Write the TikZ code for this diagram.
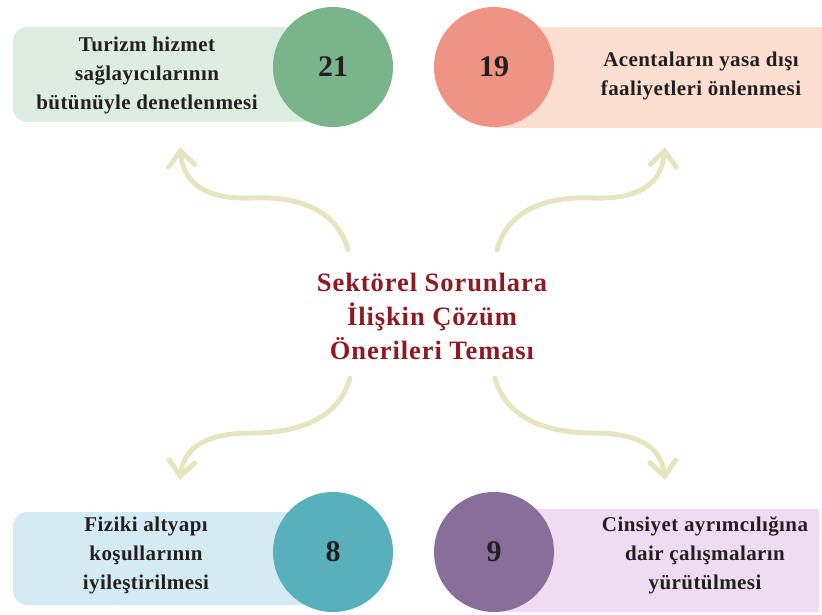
\documentclass[tikz,border=0pt]{standalone}
\usepackage{fontspec}
\setmainfont{Liberation Serif}
\usetikzlibrary{arrows.meta}
\definecolor{inkdark}{HTML}{231F20}
\definecolor{titlered}{HTML}{8E1B22}
\definecolor{arrowtan}{HTML}{E6E5C2}
\definecolor{greenbox}{HTML}{DDEDE2}
\definecolor{greendot}{HTML}{79B48A}
\definecolor{salmonbox}{HTML}{FDDFD1}
\definecolor{salmondot}{HTML}{EF9384}
\definecolor{bluebox}{HTML}{D4EBF3}
\definecolor{bluedot}{HTML}{57B0BC}
\definecolor{lilacbox}{HTML}{EFDBF2}
\definecolor{lilacdot}{HTML}{886F9B}
\tikzset{
  panel/.style={rounded corners=14pt},
  dot/.style={circle, minimum size=120pt, inner sep=0pt,
    font=\bfseries\fontsize{30}{32}\selectfont, text=inkdark},
  label/.style={align=center, text=inkdark,
    font=\bfseries\fontsize{21}{29}\selectfont\addfontfeature{LetterSpace=2}},
  theme/.style={align=center, text=titlered,
    font=\bfseries\fontsize{26.5}{34}\selectfont\addfontfeature{LetterSpace=3.5}},
  flow/.style={draw=arrowtan, line width=5pt, line cap=round,
    -{Straight Barb[length=15pt,width=26pt,line cap=round]}}
}
\begin{document}
\begin{tikzpicture}[x=1pt,y=-1pt]
\useasboundingbox (0,0) rectangle (822,615);

% background panels
\fill[greenbox, panel] (13,27) rectangle (340,122);
\fill[salmonbox] (494,27) rectangle (822,128);
\fill[bluebox, panel] (13,512) rectangle (340,605);
\fill[lilacbox] (494,509) rectangle (819,612);

% numbered discs
\node[dot, fill=greendot]  (n21) at (333,67)  {21};
\node[dot, fill=salmondot] (n19) at (494,67)  {19};
\node[dot, fill=bluedot]   (n8)  at (333,552) {8};
\node[dot, fill=lilacdot]  (n9)  at (494,552) {9};

% panel texts
\node[label] (t21) at (147,75)  {Turizm hizmet\\sağlayıcılarının\\bütünüyle denetlenmesi};
\node[label] (t19) at (701,76)  {Acentaların yasa dışı\\faaliyetleri önlenmesi};
\node[label] (t8)  at (146,555) {Fiziki altyapı\\koşullarının\\iyileştirilmesi};
\node[label] (t9)  at (705,555) {Cinsiyet ayrımcılığına\\dair çalışmaların\\yürütülmesi};

% central theme
\node[theme] (theme) at (432,316) {Sektörel Sorunlara\\İlişkin Çözüm\\Önerileri Teması};

% arrow anchors
\coordinate (sTL) at (348,250);
\coordinate (sTR) at (497,250);
\coordinate (sBL) at (350,378);
\coordinate (sBR) at (495,378);
\coordinate (eTL) at (180,147);
\coordinate (eTR) at (665,147);
\coordinate (eBL) at (180,480);
\coordinate (eBR) at (665,480);

% curved arrows out of the theme
\draw[flow] (sTL) .. controls (336,205) and (290,196) .. (250,198)
  .. controls (212,199) and (184,188) .. (eTL);
\draw[flow] (sTR) .. controls (509,205) and (555,196) .. (595,198)
  .. controls (633,199) and (661,188) .. (eTR);
\draw[flow] (sBL) .. controls (338,422) and (292,433) .. (252,433)
  .. controls (210,433) and (184,445) .. (eBL);
\draw[flow] (sBR) .. controls (507,422) and (553,433) .. (593,433)
  .. controls (635,433) and (661,445) .. (eBR);
\end{tikzpicture}
\end{document}
